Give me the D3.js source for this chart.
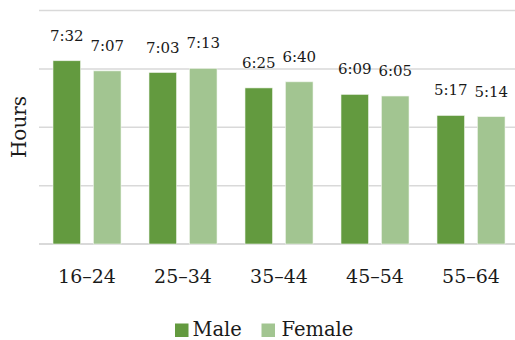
<!DOCTYPE html>
<html>
<head>
<meta charset="utf-8">
<script src="https://cdn.jsdelivr.net/npm/d3@7"></script>
<style>
  html, body { margin: 0; padding: 0; background: #fff; }
  svg { display: block; }
</style>
</head>
<body>
<svg id="chart" width="515" height="340"></svg>
<script>
// ---- data ----
const categories = ["16–24", "25–34", "35–44", "45–54", "55–64"];
const seriesNames = ["Male", "Female"];
const maleValues = ["7:32", "7:03", "6:25", "6:09", "5:17"];
const femaleValues = ["7:07", "7:13", "6:40", "6:05", "5:14"];
const yTicks = [0, 0.1, 0.2, 0.3, 0.4]; // fraction of a day
const colors = { Male: "#639a3f", Female: "#a2c591" };

// hh:mm -> fraction of a day
const toDays = s => { const [h, m] = s.split(":").map(Number); return (h + m / 60) / 24; };

const rows = categories.map((c, i) => ({
  cat: c,
  vals: [
    { key: "Male", label: maleValues[i], v: toDays(maleValues[i]) },
    { key: "Female", label: femaleValues[i], v: toDays(femaleValues[i]) }
  ]
}));

const svg = d3.select("#chart");
const font = "'DejaVu Serif', serif";

const x0 = d3.scaleBand().domain(categories).range([39, 519]).padding(0);
const x1 = d3.scaleBand().domain(seriesNames).range([14, 82]).paddingInner(0.321).paddingOuter(0);
const y = d3.scaleLinear().domain([0, 0.4]).range([244, 10.5]);

// gridlines
svg.append("g").selectAll("line").data(yTicks).join("line")
  .attr("x1", 39).attr("x2", 515)
  .attr("y1", d => y(d)).attr("y2", d => y(d))
  .attr("stroke", "#d9d9d9").attr("stroke-width", d => d === 0 ? 2 : 1.5);

// bars
const g = svg.append("g").selectAll("g").data(rows).join("g")
  .attr("transform", d => `translate(${x0(d.cat)},0)`);

g.selectAll("rect").data(d => d.vals).join("rect")
  .attr("x", d => x1(d.key))
  .attr("width", x1.bandwidth())
  .attr("y", d => y(d.v))
  .attr("height", d => y(0) - y(d.v))
  .attr("fill", d => colors[d.key])
  .attr("stroke", "#eef3ea").attr("stroke-width", 0.6);

g.selectAll("text").data(d => d.vals).join("text")
  .attr("x", d => x1(d.key) + x1.bandwidth() / 2)
  .attr("y", d => y(d.v) - 20)
  .attr("text-anchor", "middle")
  .attr("font-family", font).attr("font-size", 15)
  .attr("fill", "#1a1a1a")
  .text(d => d.label);

// x axis labels
const xAxis = d3.axisBottom(x0).tickSize(0).tickPadding(0);
const ax = svg.append("g").attr("transform", "translate(0,244)").call(xAxis);
ax.select(".domain").remove();
ax.selectAll("text")
  .attr("font-family", font).attr("font-size", 19)
  .attr("fill", "#1a1a1a")
  .attr("dy", null)
  .attr("y", 39);

// y title
svg.append("text")
  .attr("transform", "translate(26,127) rotate(-90)")
  .attr("text-anchor", "middle")
  .attr("font-family", font).attr("font-size", 20)
  .attr("fill", "#1a1a1a")
  .text("Hours");

// legend
const legendItems = [
  { key: "Male", sx: 175, tx: 192.5 },
  { key: "Female", sx: 261.5, tx: 281.5 }
];
const lg = svg.append("g");
lg.selectAll("rect").data(legendItems).join("rect")
  .attr("x", d => d.sx).attr("y", 323.5)
  .attr("width", 13.5).attr("height", 13.5)
  .attr("fill", d => colors[d.key]);
lg.selectAll("text").data(legendItems).join("text")
  .attr("x", d => d.tx).attr("y", 335.5)
  .attr("font-family", font).attr("font-size", 19.5)
  .attr("fill", "#1a1a1a")
  .text(d => d.key);
</script>
</body>
</html>
